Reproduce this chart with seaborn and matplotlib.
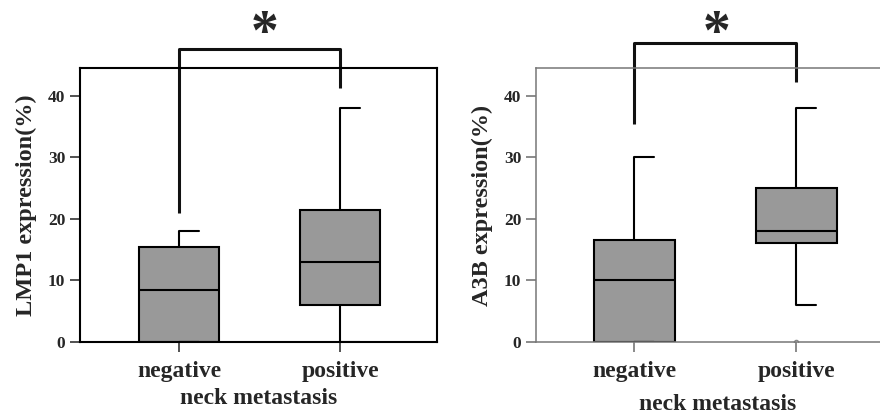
import numpy as np
import pandas as pd
import matplotlib
matplotlib.use("Agg")
import matplotlib.pyplot as plt
import seaborn as sns

categories = ["negative", "positive"]
lmp1_negative = [0, 0, 8.5, 15.5, 18]
lmp1_positive = [0, 6, 13, 21.5, 38]
a3b_negative = [0, 0, 10, 16.5, 30]
a3b_positive = [0, 6, 16, 17, 18, 24, 25, 30, 38]

# significance brackets: (bar height, left leg end, right leg end)
lmp1_bracket = (47.6, 21.0, 41.3)
a3b_bracket = (48.6, 35.4, 42.3)

yticks = [0, 10, 20, 30, 40]

sns.set_style("ticks")
plt.rcParams["font.family"] = ["Liberation Serif", "DejaVu Serif"]
plt.rcParams["font.weight"] = "bold"


def long_df(neg, pos):
    return pd.DataFrame({
        "group": ["negative"] * len(neg) + ["positive"] * len(pos),
        "value": list(neg) + list(pos),
    })


def draw_panel(ax, df, ylabel, bracket, spine_color, spine_lw, tick_color, star_x):
    sns.boxplot(data=df, x="group", y="value", order=categories, ax=ax,
                color="#999999", saturation=1, width=0.5, linecolor="black",
                linewidth=1.5, fliersize=3,
                flierprops=dict(marker="o", markerfacecolor="none",
                                markeredgecolor="#888888", markeredgewidth=1))
    # caps run from the whisker to the right only
    for line in ax.lines:
        x = np.asarray(line.get_xdata(), dtype=float)
        y = np.asarray(line.get_ydata(), dtype=float)
        if len(x) == 2 and y[0] == y[1] and abs(x[1] - x[0]) < 0.45:
            c = (x[0] + x[1]) / 2
            line.set_xdata([c, c + 0.125])
            line.set_linewidth(1.5)
    ax.set_ylim(0, 44.5)
    ax.set_yticks(yticks)
    ax.set_ylabel(ylabel, fontsize=17.5, fontweight="bold", labelpad=8)
    ax.set_xlabel("neck metastasis", fontsize=17, fontweight="bold", labelpad=4)
    ax.tick_params(axis="y", length=7.5, width=1.2, color=tick_color,
                   labelsize=12.5, pad=3)
    ax.tick_params(axis="x", length=7, width=1.2, color=tick_color,
                   labelsize=17, pad=7)
    for lbl in ax.get_xticklabels() + ax.get_yticklabels():
        lbl.set_fontweight("bold")
    for s in ax.spines.values():
        s.set_visible(True)
        s.set_color(spine_color)
        s.set_linewidth(spine_lw)
    top, left_end, right_end = bracket
    ax.plot([0, 0, 1, 1], [left_end, top, top, right_end], color="#111111",
            lw=2.2, clip_on=False, solid_capstyle="butt")
    ax.text(star_x, 47.6, "*", fontsize=40, fontweight="bold", ha="center",
            va="baseline", clip_on=False, transform=ax.transData)


fig = plt.figure(figsize=(8.8, 4.15), dpi=100)
ax1 = fig.add_axes([80 / 880, 73 / 415, 357 / 880, 274 / 415])
ax2 = fig.add_axes([536 / 880, 73 / 415, 364 / 880, 274 / 415])

draw_panel(ax1, long_df(lmp1_negative, lmp1_positive), "LMP1 expression(%)",
           lmp1_bracket, "black", 1.5, "#333333", 0.53)
ax1.set_xlim(-99 / 161, 1 + 97 / 161)

draw_panel(ax2, long_df(a3b_negative, a3b_positive), "A3B expression(%)",
           a3b_bracket, "#777777", 1.1, "#777777", 0.51)
ax2.set_xlim(-98 / 162, -98 / 162 + 364 / 162)
ax2.xaxis.labelpad = 8

fig.savefig("out.png", dpi=100)
